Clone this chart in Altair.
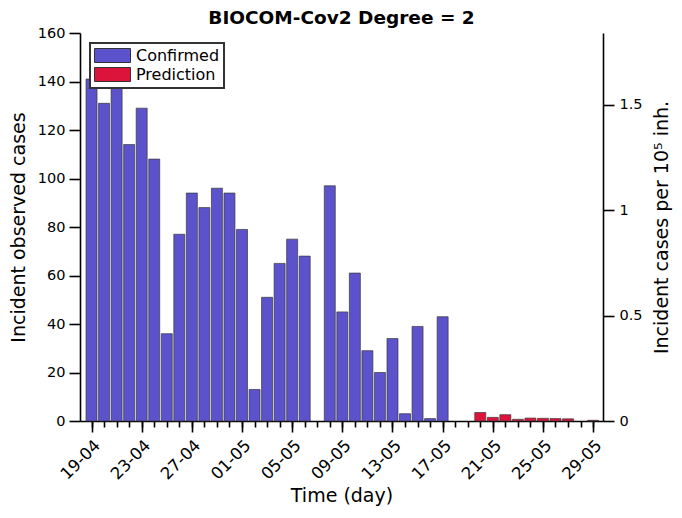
import altair as alt
import pandas as pd

# ---- data ----
day_labels = ["19-04", "20-04", "21-04", "22-04", "23-04", "24-04", "25-04", "26-04",
              "27-04", "28-04", "29-04", "30-04", "01-05", "02-05", "03-05", "04-05",
              "05-05", "06-05", "07-05", "08-05", "09-05", "10-05", "11-05", "12-05",
              "13-05", "14-05", "15-05", "16-05", "17-05", "18-05", "19-05", "20-05",
              "21-05", "22-05", "23-05", "24-05", "25-05", "26-05", "27-05", "28-05",
              "29-05"]

# confirmed cases from 19-04 to 17-05
confirmed_values = [141, 131, 139, 114, 129, 108, 36, 77, 94, 88, 96, 94, 79, 13, 51,
                    65, 75, 68, 0, 97, 45, 61, 29, 20, 34, 3, 39, 1, 43]
confirmed_start = 0

# predictions from 20-05 to 29-05
prediction_values = [3.5, 1.5, 2.6, 0.7, 1.2, 1.1, 1.0, 0.9, 0.0, 0.3]
prediction_start = 31

series_names = ["Confirmed", "Prediction"]
series_colors = ["#5b52cc", "#dc143c"]

cases_per_100k_unit = 87.0  # observed cases corresponding to 1 case per 10^5 inh.
left_max = 160

rows = []
for i, v in enumerate(confirmed_values):
    if v > 0:
        rows.append({"day": confirmed_start + i, "cases": v, "series": "Confirmed"})
for i, v in enumerate(prediction_values):
    if v > 0:
        rows.append({"day": prediction_start + i, "cases": v, "series": "Prediction"})
df = pd.DataFrame(rows)

right_df = pd.DataFrame({"day": [0, len(day_labels) - 1],
                         "rate": [0, left_max / cases_per_100k_unit]})

FONT = "DejaVu Sans"
xscale = alt.Scale(domain=[-0.52, 40.39], nice=False, zero=False)
label_expr = "[" + ",".join("'" + d + "'" for d in day_labels) + "][datum.value]"
legend_path = "M-1,-0.875H3.5V0.875H-1Z"

bars = alt.Chart(df).mark_bar(size=11, stroke="#3a3a3a", strokeWidth=0.7).encode(
    x=alt.X("day:Q", scale=xscale,
            axis=alt.Axis(orient="bottom", values=list(range(0, 41, 4)), labelExpr=label_expr,
                          tickSize=11, tickWidth=1.6, labelAngle=315, labelAlign="right",
                          labelBaseline="top", labelPadding=5, labelFontSize=16.5,
                          title="Time (day)", titleFontSize=19, titleFontWeight="normal",
                          titlePadding=4, grid=False, domainWidth=1.6)),
    y=alt.Y("cases:Q", scale=alt.Scale(domain=[0, left_max], nice=False),
            axis=alt.Axis(values=list(range(0, 161, 20)), tickSize=11, tickWidth=1.6,
                          labelFontSize=14.5, labelPadding=4, title="Incident observed cases",
                          titleFontSize=19, titleFontWeight="normal", titlePadding=9,
                          grid=False, domainWidth=1.6)),
    color=alt.Color("series:N",
                    scale=alt.Scale(domain=series_names, range=series_colors),
                    legend=alt.Legend(orient="none", legendX=10, legendY=10, title=None,
                                      fillColor="white", strokeColor="#333333",
                                      padding=4, rowPadding=0,
                                      symbolType=legend_path, symbolSize=256,
                                      symbolStrokeColor="#333333", symbolStrokeWidth=1,
                                      symbolOpacity=1,
                                      labelFontSize=16, labelColor="black",
                                      labelFont=FONT, labelOffset=25)),
)

right = alt.Chart(right_df).mark_point(opacity=0).encode(
    x=alt.X("day:Q", scale=xscale,
            axis=alt.Axis(orient="bottom", values=list(range(0, 41)), labels=False,
                          tickSize=6, tickWidth=1.6, domain=False, title=None, grid=False)),
    y=alt.Y("rate:Q", scale=alt.Scale(domain=[0, left_max / cases_per_100k_unit], nice=False),
            axis=alt.Axis(orient="right", values=[0, 0.5, 1, 1.5], format=".1~f",
                          tickSize=11, tickWidth=1.6, labelFontSize=14.5, labelPadding=5,
                          title="Incident cases per 10⁵ inh.", titleAngle=270,
                          titleBaseline="top",
                          titleFontSize=19, titleFontWeight="normal", titlePadding=10,
                          grid=False, domainWidth=1.6)),
)

chart = alt.layer(bars, right).resolve_scale(y="independent").resolve_axis(
    x="independent", y="independent"
).properties(
    width=523, height=388,
    autosize=alt.AutoSizeParams(type="none"),
    padding={"left": 72, "top": 25, "right": 70, "bottom": 88},
    title=alt.TitleParams("BIOCOM-Cov2 Degree = 2", fontSize=18.5, fontWeight="bold",
                          font=FONT, anchor="middle", frame="group", offset=-2,
                          color="black"),
).configure_view(stroke=None).configure_axis(
    labelFont=FONT, titleFont=FONT, labelColor="black", titleColor="black",
    domainColor="black", tickColor="black"
).configure_legend(strokeWidth=2)

chart.save("out.html", embed_options={"renderer": "svg", "actions": False})
